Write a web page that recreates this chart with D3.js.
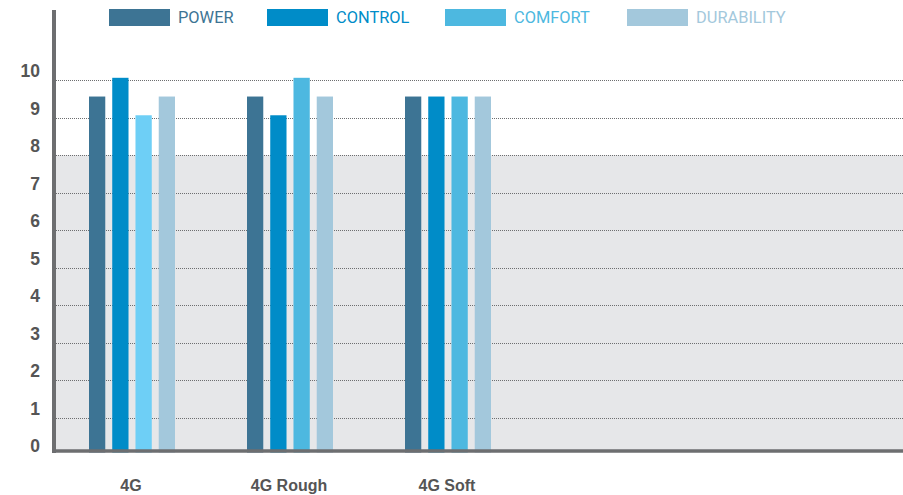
<!DOCTYPE html>
<html><head><meta charset="utf-8">
<script src="https://cdn.jsdelivr.net/npm/d3@7/dist/d3.min.js"></script>
<style>body{margin:0;background:#fff}svg{display:block}</style>
</head><body><svg id="c" width="903" height="495"></svg>
<script>
const categories = ["4G", "4G Rough", "4G Soft"];
const seriesNames = ["POWER", "CONTROL", "COMFORT", "DURABILITY"];
const power = [9.5, 9.5, 9.5];
const control = [10, 9, 9.5];
const comfort = [9, 10, 9.5];
const durability = [9.5, 9.5, 9.5];
const yTicks = [0,1,2,3,4,5,6,7,8,9,10];
const seriesColors = ["#3d7494", "#008cc8", "#4db8e0", "#a3c8dc"];
const comfortFirstColor = "#6ecff6";

const values = [power, control, comfort, durability];
const svg = d3.select("#c");
const W = 903;
const axisX = 54;
const y = d3.scaleLinear().domain([0, 10]).range([452.5, 77.8]);
const gridOff = 2.5;
const x0 = d3.scaleBand().domain(categories).range([53, 527]).paddingInner(0).paddingOuter(0);
const x1 = d3.scaleBand().domain(seriesNames).range([36, 122]).paddingInner(0.3).paddingOuter(0);

// gray background below 8
svg.append("rect").attr("x", axisX).attr("y", y(8)+gridOff).attr("width", W-axisX)
  .attr("height", 451 - (y(8)+gridOff)).attr("fill", "#e6e7e9");

// gridlines
svg.append("g").selectAll("line").data(yTicks.filter(d=>d>0)).join("line")
  .attr("x1", axisX+2).attr("x2", W)
  .attr("y1", d => Math.round(y(d)+gridOff)+0.5).attr("y2", d => Math.round(y(d)+gridOff)+0.5)
  .attr("stroke", "#6d6e70").attr("stroke-width", 1).attr("stroke-dasharray", "1,1");

// bars
const rows = [];
categories.forEach((c, i) => seriesNames.forEach((s, j) => rows.push({c, s, j, i, v: values[j][i]})));
svg.append("g").selectAll("rect").data(rows).join("rect")
  .attr("x", d => x0(d.c) + x1(d.s))
  .attr("width", x1.bandwidth())
  .attr("y", d => y(d.v))
  .attr("height", d => y(0) - y(d.v))
  .attr("fill", d => (d.j === 2 && d.i === 0) ? comfortFirstColor : seriesColors[d.j]);

// axes lines
svg.append("line").attr("x1", axisX).attr("x2", axisX).attr("y1", 10).attr("y2", 453)
  .attr("stroke", "#6d6e70").attr("stroke-width", 4);
svg.append("line").attr("x1", axisX-2).attr("x2", W).attr("y1", 451).attr("y2", 451)
  .attr("stroke", "#6d6e70").attr("stroke-width", 3.5);

// y labels
svg.append("g").selectAll("text").data(yTicks).join("text")
  .attr("x", 40).attr("y", d => y(d) - 5)
  .attr("text-anchor", "end").attr("dominant-baseline", "middle")
  .attr("font-family", "'Liberation Sans', Arial, sans-serif").attr("font-weight", "bold")
  .attr("font-size", 17.5).attr("fill", "#555")
  .text(d => d);

// x labels
svg.append("g").selectAll("text").data(categories).join("text")
  .attr("x", d => x0(d) + x0.bandwidth()/2 - 1).attr("y", 491)
  .attr("text-anchor", "middle")
  .attr("font-family", "'Liberation Sans', Arial, sans-serif").attr("font-weight", "bold")
  .attr("font-size", 16).attr("fill", "#555")
  .text(d => d);

// legend
const legX = [109, 267, 445, 627];
const lg = svg.append("g").selectAll("g").data(seriesNames).join("g")
  .attr("transform", (d, i) => `translate(${legX[i]},9)`);
lg.append("rect").attr("width", 61).attr("height", 17).attr("fill", (d, i) => seriesColors[i]);
lg.append("text").attr("x", 69).attr("y", 14.3)
  .attr("font-family", "Roboto, sans-serif").attr("font-size", 16.4)
  .attr("fill", (d, i) => seriesColors[i]).text(d => d);
</script></body></html>
